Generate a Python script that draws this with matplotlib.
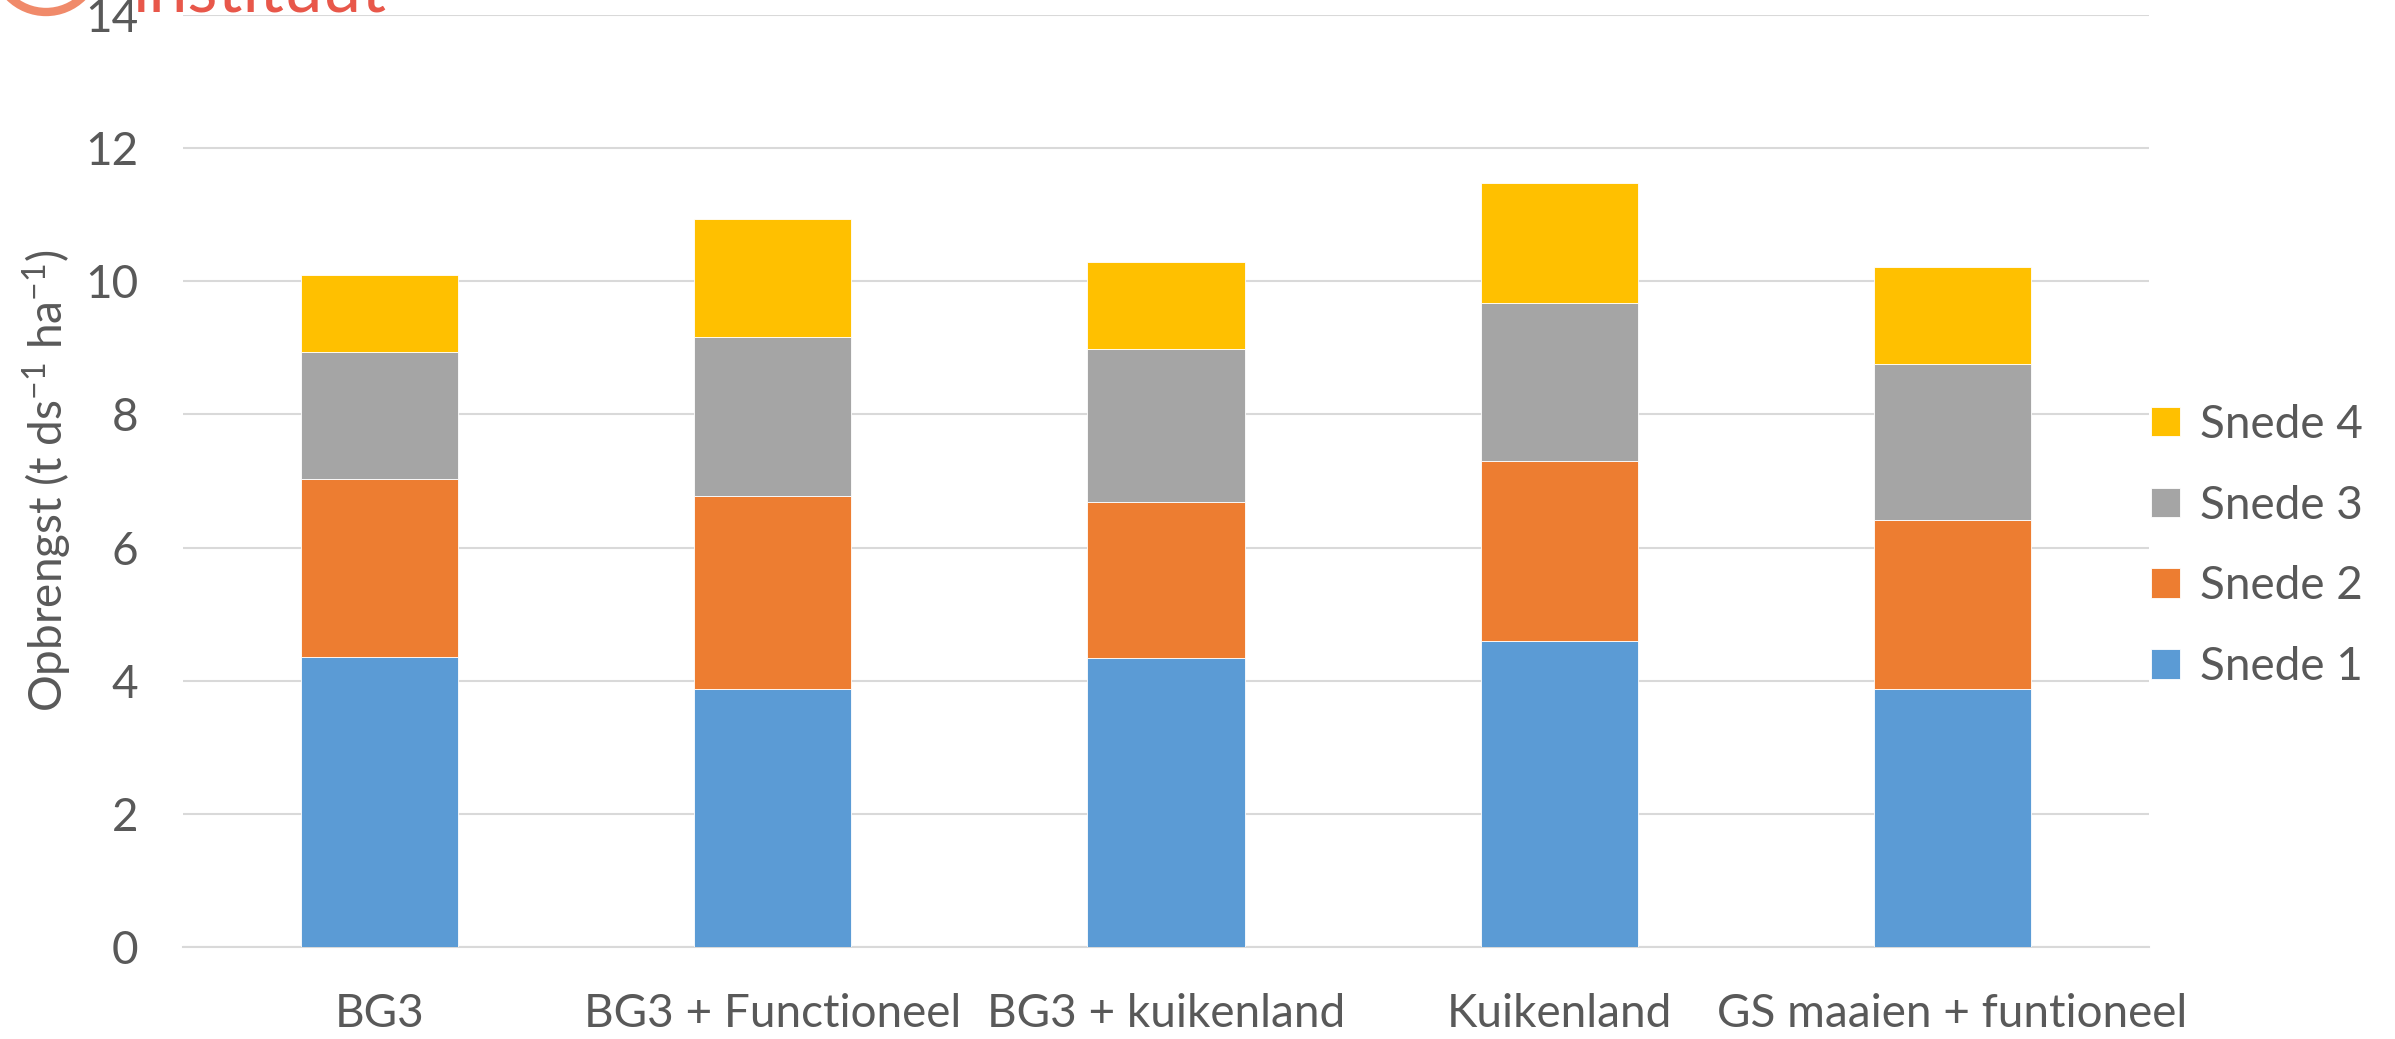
import matplotlib.pyplot as plt
from matplotlib.patches import Ellipse
import numpy as np

# Gegevens
categories = ["BG3", "BG3 + Functioneel", "BG3 + kuikenland", "Kuikenland", "GS maaien + funtioneel"]
snede_1 = [4.36, 3.88, 4.34, 4.60, 3.87]
snede_2 = [2.67, 2.89, 2.35, 2.70, 2.54]
snede_3 = [1.91, 2.40, 2.30, 2.38, 2.35]
snede_4 = [1.15, 1.77, 1.30, 1.80, 1.45]
series_names = ["Snede 1", "Snede 2", "Snede 3", "Snede 4"]
colors = ["#5B9BD5", "#ED7D31", "#A5A5A5", "#FFC000"]

font = "Lato"
text_color = "#595959"
fs = 33
plt.rcParams['font.family'] = [font, 'DejaVu Sans']
plt.rcParams['mathtext.fontset'] = 'custom'
plt.rcParams['mathtext.rm'] = font
plt.rcParams['mathtext.default'] = 'regular'

W, H = 2395, 1039
fig = plt.figure(figsize=(W / 100, H / 100), dpi=100)
ax = fig.add_axes([183 / W, 1 - 947 / H, (2149 - 183) / W, (947 - 15) / H])

x = np.arange(len(categories))
bottom = np.zeros(len(categories))
bars = []
for vals, name, c in zip([snede_1, snede_2, snede_3, snede_4], series_names, colors):
    b = ax.bar(x, vals, width=0.40, bottom=bottom, color=c, label=name,
               edgecolor="white", linewidth=0.6, zorder=3)
    bars.append(b)
    bottom += np.array(vals)

ax.set_xlim(-0.5, len(categories) - 0.5)
ax.set_ylim(0, 14)
ax.set_yticks(range(0, 15, 2))
ax.set_xticks(x)
ax.set_xticklabels(categories)
ax.grid(axis="y", color="#D9D9D9", linewidth=1.5, zorder=0)
for s in ["left", "right", "top"]:
    ax.spines[s].set_visible(False)
ax.spines["bottom"].set_color("#D9D9D9")
ax.spines["bottom"].set_linewidth(1.5)
ax.tick_params(axis="both", length=0, labelsize=fs, colors=text_color)
ax.tick_params(axis="y", pad=32)
ax.tick_params(axis="x", pad=33)
ax.set_ylabel("Opbrengst (t ds$^{-1}$ ha$^{-1}$)", fontsize=fs, color=text_color, labelpad=8)

handles = bars[::-1]
leg = fig.legend(handles, series_names[::-1], loc="center left",
                 bbox_to_anchor=(2110 / W, 1 - 546 / H), frameon=False,
                 fontsize=fs, handlelength=0.62, handleheight=0.62,
                 labelspacing=0.85, handletextpad=0.45)
for t in leg.get_texts():
    t.set_color(text_color)

# stukje logo linksboven (afgesneden)
fig.text(132 / W, 1 - 12 / H, "instituut", fontsize=50, color="#E8574A",
         va="baseline", ha="left")
ring = Ellipse((46 / W, 1 + 40 / H), 104 / W, 104 / H, transform=fig.transFigure,
               fill=False, edgecolor="#F08A6A", linewidth=6)
fig.patches.append(ring)

fig.savefig("out.png", dpi=100)
